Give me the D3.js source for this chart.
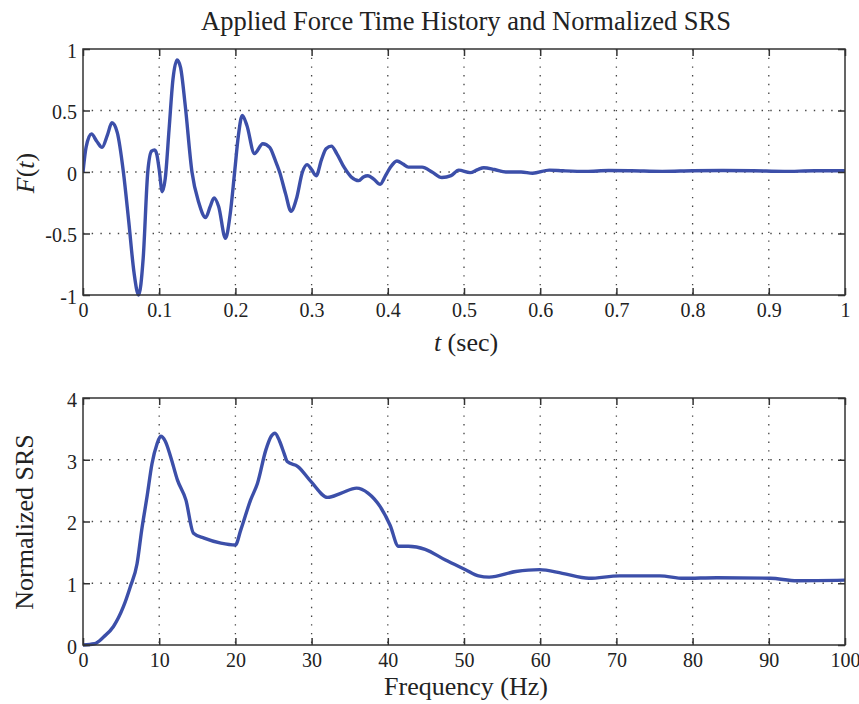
<!DOCTYPE html>
<html>
<head>
<meta charset="utf-8">
<script src="https://cdn.jsdelivr.net/npm/d3@7"></script>
<style>
  html, body { margin: 0; padding: 0; background: #fff; }
  svg { display: block; }
  text { font-family: "Liberation Serif", "Times New Roman", serif; fill: #222; }
</style>
</head>
<body>
<svg id="chart" width="859" height="704"></svg>
<script>
// ---------- data ----------
const titleText = "Applied Force Time History and Normalized SRS";

const timeSec = [0, 0.004, 0.011, 0.018, 0.025, 0.032, 0.038, 0.045, 0.053, 0.06, 0.067, 0.073, 0.079, 0.085, 0.09, 0.094, 0.097, 0.1, 0.104, 0.108, 0.113, 0.118, 0.1235, 0.128, 0.134, 0.143, 0.152, 0.161, 0.167, 0.172, 0.178, 0.187, 0.193, 0.199, 0.204, 0.209, 0.215, 0.225, 0.236, 0.245, 0.252, 0.258, 0.266, 0.273, 0.28, 0.288, 0.294, 0.3, 0.306, 0.313, 0.319, 0.326, 0.333, 0.343, 0.352, 0.362, 0.368, 0.374, 0.382, 0.39, 0.397, 0.403, 0.412, 0.42, 0.427, 0.445, 0.458, 0.471, 0.483, 0.493, 0.508, 0.518, 0.526, 0.54, 0.555, 0.575, 0.59, 0.612, 0.63, 0.66, 0.69, 0.72, 0.76, 0.8, 0.84, 0.88, 0.92, 0.96, 1.0];
const forceValues = [0, 0.2, 0.31, 0.25, 0.2, 0.3, 0.40, 0.32, 0.0, -0.4, -0.82, -1.0, -0.7, 0.0, 0.17, 0.18, 0.14, 0.02, -0.16, -0.05, 0.35, 0.75, 0.91, 0.85, 0.55, 0.0, -0.25, -0.37, -0.28, -0.21, -0.28, -0.54, -0.35, 0.0, 0.3, 0.46, 0.38, 0.15, 0.23, 0.2, 0.1, 0.0, -0.18, -0.32, -0.22, 0.0, 0.06, 0.02, -0.03, 0.1, 0.19, 0.21, 0.15, 0.035, -0.04, -0.07, -0.04, -0.03, -0.06, -0.1, -0.03, 0.035, 0.09, 0.065, 0.04, 0.04, 0.0, -0.045, -0.03, 0.015, -0.005, 0.02, 0.035, 0.02, 0.0, 0.0, -0.01, 0.015, 0.01, 0.005, 0.012, 0.01, 0.005, 0.01, 0.012, 0.01, 0.005, 0.01, 0.01];

const freqHz = [0, 1.5, 2.7, 4.0, 5.3, 6.2, 7.1, 7.7, 8.4, 9.06, 9.7, 10.2, 10.8, 11.5, 12.4, 13.5, 14.5, 15.9, 18.1, 20.0, 20.7, 22.0, 22.9, 24.0, 24.7, 25.2, 25.8, 26.4, 26.8, 28.2, 29.9, 32.1, 33.9, 35.9, 37.4, 39.0, 40.3, 41.4, 42.7, 44.9, 47.5, 50.2, 51.9, 53.3, 56.8, 59.9, 62.9, 66.4, 70.4, 75.7, 78.8, 83.2, 90.2, 93.7, 100];
const srsValues = [0, 0.02, 0.13, 0.3, 0.62, 0.94, 1.32, 1.86, 2.4, 2.94, 3.25, 3.38, 3.3, 3.05, 2.67, 2.35, 1.81, 1.73, 1.65, 1.62, 1.86, 2.35, 2.62, 3.16, 3.38, 3.43, 3.3, 3.1, 2.97, 2.89, 2.65, 2.39, 2.46, 2.54, 2.46, 2.24, 1.94, 1.6, 1.6, 1.55, 1.38, 1.22, 1.12, 1.1, 1.19, 1.22, 1.16, 1.08, 1.12, 1.12, 1.08, 1.09, 1.08, 1.04, 1.05];

const topXTicks = [0, 0.1, 0.2, 0.3, 0.4, 0.5, 0.6, 0.7, 0.8, 0.9, 1];
const topYTicks = [-1, -0.5, 0, 0.5, 1];
const botXTicks = [0, 10, 20, 30, 40, 50, 60, 70, 80, 90, 100];
const botYTicks = [0, 1, 2, 3, 4];

// ---------- drawing ----------
const serif = '"Liberation Serif", "Times New Roman", serif';
const svg = d3.select("#chart");
svg.append("rect").attr("width", 859).attr("height", 704).attr("fill", "#fff");

const lineColor = "#3c4fa9";
const axisColor = "#333";

function panel(cfg) {
  const { left, right, top, bottom, xDomain, yDomain, xTicks, yTicks, xs, ys } = cfg;
  const x = d3.scaleLinear().domain(xDomain).range([left, right]);
  const y = d3.scaleLinear().domain(yDomain).range([bottom, top]);
  const g = svg.append("g");

  // grid
  g.append("g").selectAll("line").data(xTicks.slice(1, -1)).join("line")
    .attr("x1", d => x(d)).attr("x2", d => x(d)).attr("y1", top).attr("y2", bottom)
    .attr("stroke", "#444").attr("stroke-width", 1.3).attr("stroke-dasharray", "1.4,7.3");
  g.append("g").selectAll("line").data(yTicks.slice(1, -1)).join("line")
    .attr("y1", d => y(d)).attr("y2", d => y(d)).attr("x1", left).attr("x2", right)
    .attr("stroke", "#444").attr("stroke-width", 1.3).attr("stroke-dasharray", "1.4,7.3");

  // data line
  const data = xs.map((v, i) => [v, ys[i]]);
  const clipId = "clip" + Math.round(top);
  svg.append("clipPath").attr("id", clipId).append("rect")
    .attr("x", left).attr("y", top - 2).attr("width", right - left).attr("height", bottom - top + 4);
  g.append("path").datum(data)
    .attr("clip-path", `url(#${clipId})`)
    .attr("fill", "none").attr("stroke", lineColor).attr("stroke-width", 3.4)
    .attr("stroke-linejoin", "round")
    .attr("d", d3.line().x(d => x(d[0])).y(d => y(d[1])).curve(d3.curveMonotoneX));

  // axes (ticks inside)
  const tickLen = 7;
  const fmt = d => String(d);
  const axB = d3.axisBottom(x).tickValues(xTicks).tickSizeInner(-tickLen).tickSizeOuter(0).tickPadding(12).tickFormat(fmt);
  const axT = d3.axisTop(x).tickValues(xTicks).tickSizeInner(-tickLen).tickSizeOuter(0).tickFormat("");
  const axL = d3.axisLeft(y).tickValues(yTicks).tickSizeInner(-tickLen).tickSizeOuter(0).tickPadding(14).tickFormat(fmt);
  const axR = d3.axisRight(y).tickValues(yTicks).tickSizeInner(-tickLen).tickSizeOuter(0).tickFormat("");

  const gB = g.append("g").attr("transform", `translate(0,${bottom})`).call(axB);
  const gT = g.append("g").attr("transform", `translate(0,${top})`).call(axT);
  const gL = g.append("g").attr("transform", `translate(${left},0)`).call(axL);
  const gR = g.append("g").attr("transform", `translate(${right},0)`).call(axR);
  [gB, gT, gL, gR].forEach(a => {
    a.attr("font-family", serif);
    a.selectAll("path").remove();
    a.selectAll("line").attr("stroke", axisColor).attr("stroke-width", 1.5);
    a.selectAll("text").style("font-family", serif)
      .attr("font-size", 20).attr("fill", "#222");
  });
  gB.selectAll("text").attr("dy", null).attr("y", 22).attr("dominant-baseline", "auto");
  gL.selectAll("text").attr("dy", "0.42em").attr("x", -6);

  // frame
  g.append("rect").attr("x", left).attr("y", top).attr("width", right - left).attr("height", bottom - top)
    .attr("fill", "none").attr("stroke", axisColor).attr("stroke-width", 1.5);

  return { x, y };
}

panel({ left: 83, right: 845, top: 49, bottom: 295,
  xDomain: [0, 1], yDomain: [-1, 1], xTicks: topXTicks, yTicks: topYTicks,
  xs: timeSec, ys: forceValues });

panel({ left: 83, right: 845, top: 398, bottom: 645,
  xDomain: [0, 100], yDomain: [0, 4], xTicks: botXTicks, yTicks: botYTicks,
  xs: freqHz, ys: srsValues });

// title
svg.append("text").attr("x", 466).attr("y", 30).attr("text-anchor", "middle")
  .style("font-family", serif).attr("font-size", 26.5).text(titleText);

// top x label
const tl = svg.append("text").attr("x", 466).attr("y", 351).attr("text-anchor", "middle")
  .style("font-family", serif).attr("font-size", 26);
tl.append("tspan").attr("font-style", "italic").text("t");
tl.append("tspan").text(" (sec)");

// top y label
const fl = svg.append("text").attr("transform", "translate(34,173) rotate(-90)")
  .attr("text-anchor", "middle").style("font-family", serif).attr("font-size", 26);
fl.append("tspan").attr("font-style", "italic").text("F");
fl.append("tspan").text("(");
fl.append("tspan").attr("font-style", "italic").text("t");
fl.append("tspan").text(")");

// bottom labels
svg.append("text").attr("x", 466).attr("y", 695).attr("text-anchor", "middle")
  .style("font-family", serif).attr("font-size", 26).text("Frequency (Hz)");
svg.append("text").attr("transform", "translate(33,522) rotate(-90)")
  .attr("text-anchor", "middle").style("font-family", serif).attr("font-size", 26).text("Normalized SRS");
</script>
</body>
</html>
